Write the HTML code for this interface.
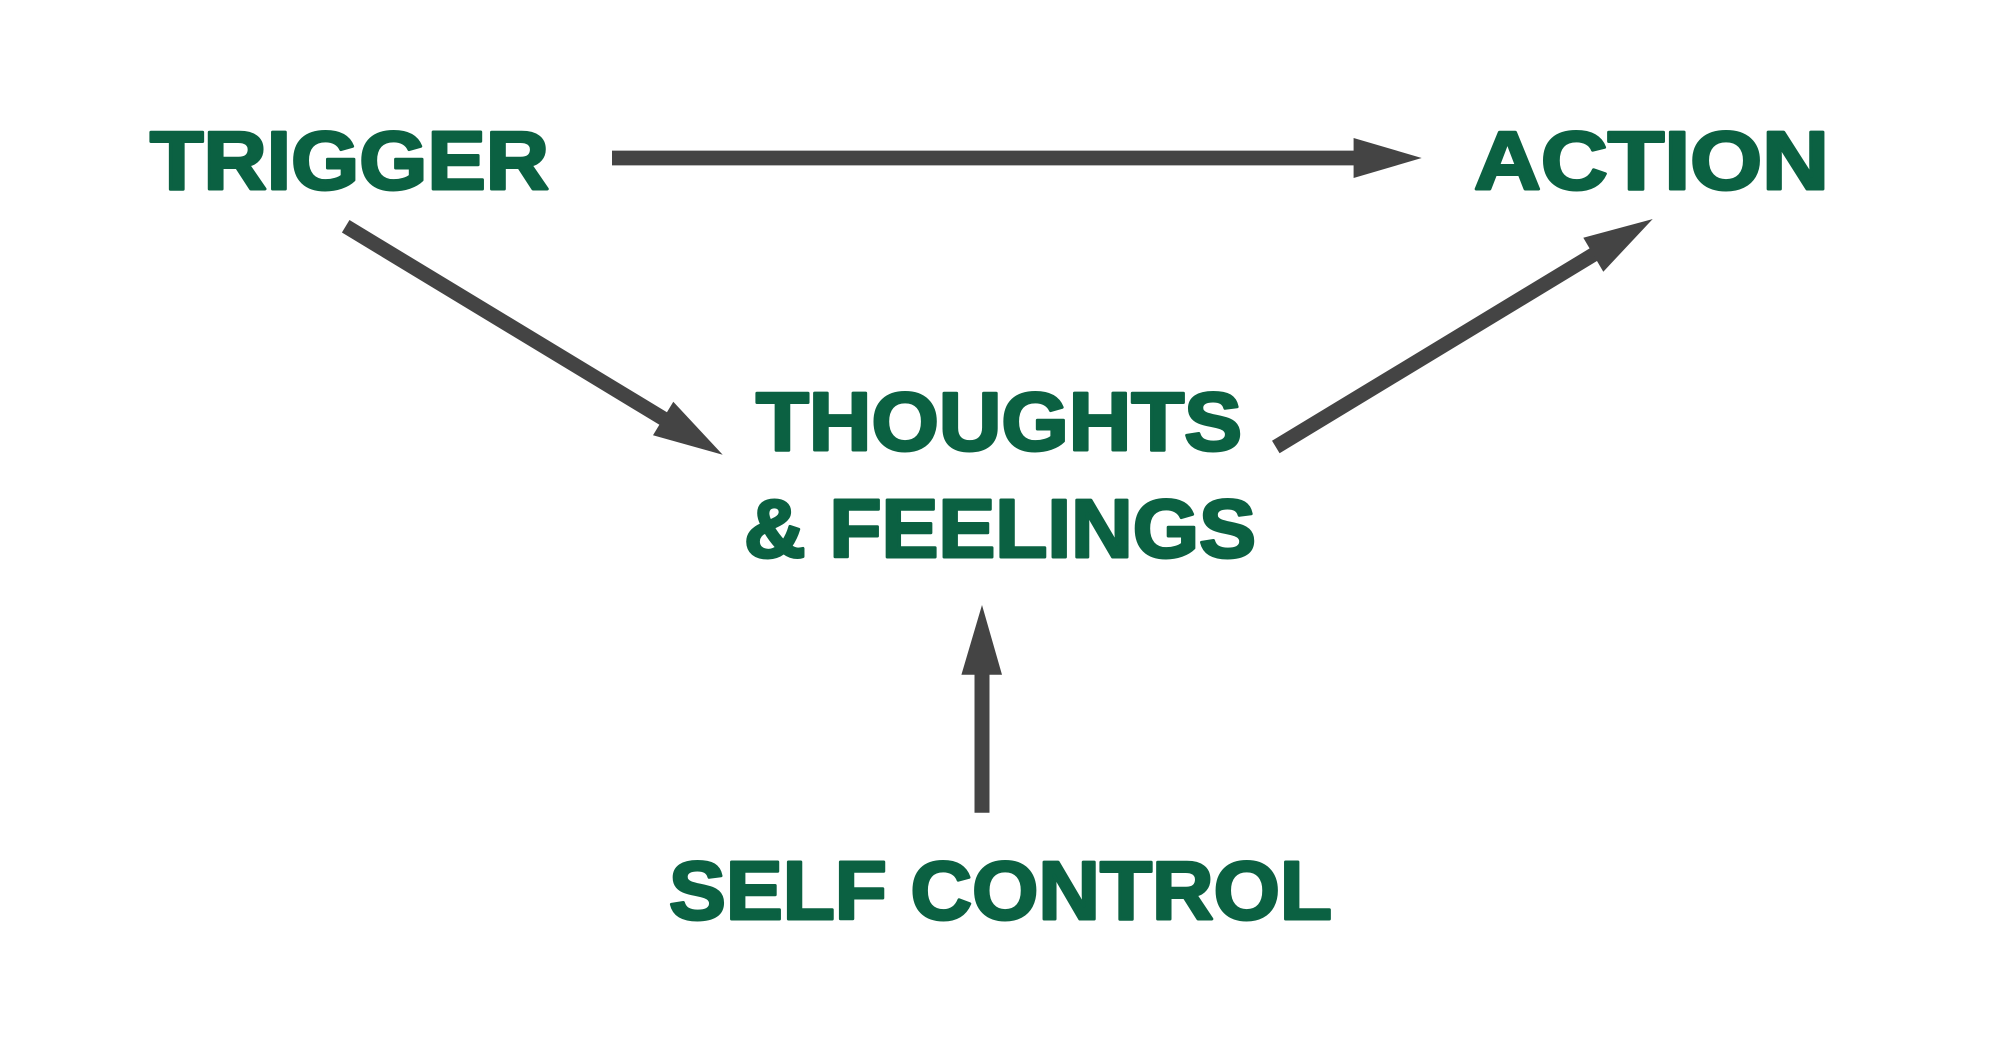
<!DOCTYPE html>
<html>
<head>
<meta charset="utf-8">
<style>
  html, body { margin: 0; padding: 0; background: #ffffff; }
  body { width: 2000px; height: 1048px; overflow: hidden; }
  svg { display: block; }
  .lbl {
    font-family: "Liberation Sans", "DejaVu Sans", sans-serif;
    font-weight: bold;
    font-size: 83px;
    fill: #0b6142;
    stroke: #0b6142;
    stroke-width: 3px;
    stroke-linejoin: round;
  }
</style>
</head>
<body>
<svg width="2000" height="1048" viewBox="0 0 2000 1048" xmlns="http://www.w3.org/2000/svg">
  <rect x="0" y="0" width="2000" height="1048" fill="#ffffff"/>

  <!-- Labels -->
  <text class="lbl" x="150" y="189" textLength="399" lengthAdjust="spacingAndGlyphs">TRIGGER</text>
  <text class="lbl" x="1474" y="189" textLength="355" lengthAdjust="spacingAndGlyphs">ACTION</text>
  <text class="lbl" x="756" y="450" textLength="486" lengthAdjust="spacingAndGlyphs">THOUGHTS</text>
  <text class="lbl" x="744" y="557" textLength="512" lengthAdjust="spacingAndGlyphs">&amp; FEELINGS</text>
  <text class="lbl" x="669" y="919" textLength="663" lengthAdjust="spacingAndGlyphs">SELF CONTROL</text>

  <!-- Arrows -->
  <g fill="#444444" stroke="none">
    <!-- Trigger -> Action (horizontal) -->
    <line x1="612" y1="158" x2="1355" y2="158" stroke="#444444" stroke-width="14.8" stroke-linecap="butt"/>
    <polygon points="1421.7,158 1353.6,138 1353.6,178"/>

    <!-- Trigger -> Thoughts (down-right) -->
    <line x1="345.7" y1="226.3" x2="664" y2="419" stroke="#444444" stroke-width="14.6" stroke-linecap="butt"/>
    <polygon points="722.7,454.7 673.3,401.7 653,435.3"/>

    <!-- Thoughts -> Action (up-right) -->
    <line x1="1275.8" y1="447" x2="1594" y2="254.3" stroke="#444444" stroke-width="14.6" stroke-linecap="butt"/>
    <polygon points="1652.7,219 1583.3,237.7 1603.3,271.7"/>

    <!-- Self Control -> Thoughts (vertical) -->
    <line x1="982" y1="812.7" x2="982" y2="674" stroke="#444444" stroke-width="15" stroke-linecap="butt"/>
    <polygon points="982,605 961.4,674.7 1002,674.7"/>
  </g>
</svg>
</body>
</html>
